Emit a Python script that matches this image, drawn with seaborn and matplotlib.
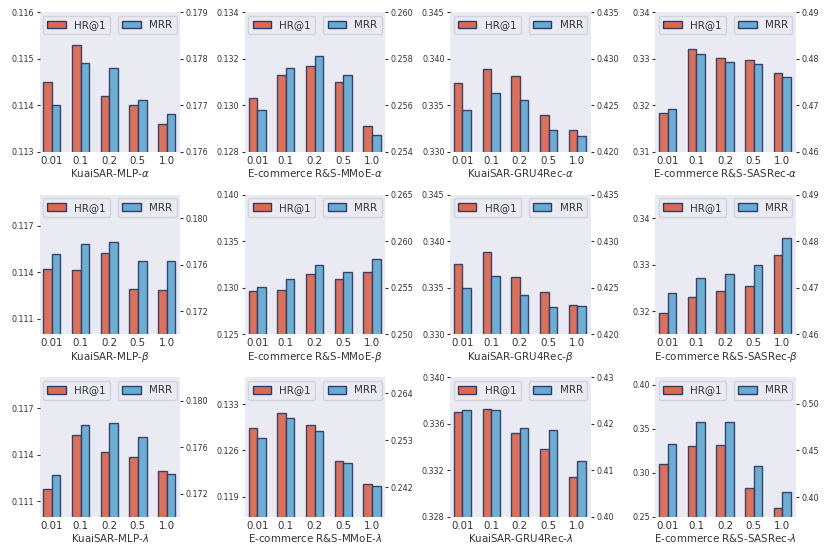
import numpy as np
import matplotlib
matplotlib.use("Agg")
import matplotlib.pyplot as plt
from matplotlib.patches import Patch
import seaborn as sns

# ── data ─────────────────────────────────────────────────────────────────
params = ["0.01", "0.1", "0.2", "0.5", "1.0"]

titles = [
    r"KuaiSAR-MLP-$\alpha$", r"E-commerce R&S-MMoE-$\alpha$",
    r"KuaiSAR-GRU4Rec-$\alpha$", r"E-commerce R&S-SASRec-$\alpha$",
    r"KuaiSAR-MLP-$\beta$", r"E-commerce R&S-MMoE-$\beta$",
    r"KuaiSAR-GRU4Rec-$\beta$", r"E-commerce R&S-SASRec-$\beta$",
    r"KuaiSAR-MLP-$\lambda$", r"E-commerce R&S-MMoE-$\lambda$",
    r"KuaiSAR-GRU4Rec-$\lambda$", r"E-commerce R&S-SASRec-$\lambda$",
]

hr_values = [
    [0.1145, 0.1153, 0.1142, 0.1140, 0.1136],
    [0.1303, 0.1313, 0.1317, 0.1310, 0.1291],
    [0.3374, 0.3389, 0.3381, 0.3339, 0.3323],
    [0.3184, 0.3321, 0.3301, 0.3297, 0.3270],
    [0.11424, 0.11413, 0.11524, 0.11293, 0.11284],
    [0.1296, 0.1298, 0.1315, 0.1309, 0.1317],
    [0.3376, 0.3389, 0.3362, 0.3345, 0.3331],
    [0.3195, 0.3231, 0.3244, 0.3253, 0.3321],
    [0.11177, 0.11529, 0.11417, 0.11389, 0.11297],
    [0.12935, 0.13165, 0.12985, 0.12435, 0.1210],
    [0.3370, 0.3373, 0.3352, 0.3338, 0.3314],
    [0.3097, 0.3305, 0.3320, 0.2829, 0.2602],
]

mrr_values = [
    [0.1770, 0.1779, 0.1778, 0.1771, 0.1768],
    [0.2558, 0.2576, 0.2581, 0.2573, 0.2547],
    [0.4245, 0.4263, 0.4256, 0.4223, 0.4217],
    [0.4692, 0.4809, 0.4793, 0.4788, 0.4761],
    [0.1769, 0.1778, 0.1779, 0.1763, 0.1763],
    [0.2551, 0.2559, 0.2575, 0.2567, 0.2581],
    [0.4250, 0.4263, 0.4242, 0.4229, 0.4230],
    [0.4689, 0.4720, 0.4729, 0.4748, 0.4808],
    [0.17357, 0.17789, 0.17806, 0.17689, 0.17369],
    [0.25356, 0.25809, 0.2551, 0.24755, 0.24216],
    [0.4231, 0.4229, 0.4191, 0.4187, 0.4120],
    [0.4569, 0.4808, 0.4804, 0.4335, 0.4057],
]

hr_ylims = [
    (0.113, 0.116), (0.128, 0.134), (0.330, 0.345), (0.31, 0.34),
    (0.110, 0.119), (0.125, 0.140), (0.330, 0.345), (0.315, 0.345),
    (0.110, 0.119), (0.116, 0.137), (0.328, 0.340), (0.25, 0.408),
]
mrr_ylims = [
    (0.176, 0.179), (0.254, 0.260), (0.420, 0.435), (0.46, 0.49),
    (0.170, 0.182), (0.250, 0.265), (0.420, 0.435), (0.46, 0.49),
    (0.170, 0.182), (0.235, 0.2677), (0.40, 0.43), (0.379, 0.528),
]

hr_ticks = [
    ["0.113", "0.114", "0.115", "0.116"], ["0.128", "0.130", "0.132", "0.134"],
    ["0.330", "0.335", "0.340", "0.345"], ["0.31", "0.32", "0.33", "0.34"],
    ["0.111", "0.114", "0.117"], ["0.125", "0.130", "0.135", "0.140"],
    ["0.330", "0.335", "0.340", "0.345"], ["0.32", "0.33", "0.34"],
    ["0.111", "0.114", "0.117"], ["0.119", "0.126", "0.133"],
    ["0.328", "0.332", "0.336", "0.340"], ["0.25", "0.30", "0.35", "0.40"],
]
mrr_ticks = [
    ["0.176", "0.177", "0.178", "0.179"], ["0.254", "0.256", "0.258", "0.260"],
    ["0.420", "0.425", "0.430", "0.435"], ["0.46", "0.47", "0.48", "0.49"],
    ["0.172", "0.176", "0.180"], ["0.250", "0.255", "0.260", "0.265"],
    ["0.420", "0.425", "0.430", "0.435"], ["0.46", "0.47", "0.48", "0.49"],
    ["0.172", "0.176", "0.180"], ["0.242", "0.253", "0.264"],
    ["0.40", "0.41", "0.42", "0.43"], ["0.40", "0.45", "0.50"],
]

HR_COLOR = "#DE6950"
MRR_COLOR = "#66ABD3"
EDGE = "#2E3D66"
TEXT = "#333333"
BAR_W = 0.3

sns.set_style("dark")
plt.rcParams["font.family"] = ["DejaVu Sans"]

fig, axes = plt.subplots(3, 4, figsize=(8.3, 5.54), dpi=100)
fig.subplots_adjust(left=0.0476, right=0.959, top=0.978, bottom=0.067,
                    wspace=0.46, hspace=0.31)

x = np.arange(len(params))
for i, ax in enumerate(axes.flat):
    ax2 = ax.twinx()

    ax.bar(x - BAR_W / 2, hr_values[i], BAR_W, color=HR_COLOR,
           edgecolor=EDGE, linewidth=1, alpha=0.95)
    ax2.bar(x + BAR_W / 2, mrr_values[i], BAR_W, color=MRR_COLOR,
            edgecolor=EDGE, linewidth=1, alpha=0.95)

    ax.set_xlim(-0.43, 4.47)
    ax.set_xticks(x, params)
    ax.set_ylim(*hr_ylims[i])
    ax2.set_ylim(*mrr_ylims[i])
    ax.set_yticks([float(t) for t in hr_ticks[i]], hr_ticks[i])
    ax2.set_yticks([float(t) for t in mrr_ticks[i]], mrr_ticks[i])

    ax.set_xlabel(titles[i], fontsize=7.4, color=TEXT, labelpad=1)
    ax.tick_params(axis="x", labelsize=7.4, length=0, pad=3, colors=TEXT)
    ax.tick_params(axis="y", left=True, length=2.5, width=0.8, labelsize=5.8,
                   pad=1.5, colors=TEXT)
    ax2.tick_params(axis="y", right=True, length=2.5, width=0.8, labelsize=5.8,
                    pad=1.5, colors=TEXT)
    for sp in list(ax.spines.values()) + list(ax2.spines.values()):
        sp.set_visible(False)

    leg1 = ax.legend(handles=[Patch(facecolor=HR_COLOR, edgecolor=EDGE, label="HR@1")],
                     loc="upper left", fontsize=7.4, handlelength=1.8,
                     handleheight=0.75, borderpad=0.42, handletextpad=0.8,
                     borderaxespad=0.35)
    leg2 = ax2.legend(handles=[Patch(facecolor=MRR_COLOR, edgecolor=EDGE, label="MRR")],
                      loc="upper right", fontsize=7.4, handlelength=1.8,
                      handleheight=0.75, borderpad=0.42, handletextpad=0.8,
                      borderaxespad=0.35)
    for leg in (leg1, leg2):
        leg.get_frame().set_edgecolor("#D0D0D8")
        leg.get_frame().set_facecolor("#EAEAF2")
        leg.get_frame().set_alpha(0.9)
        for t in leg.get_texts():
            t.set_color(TEXT)

fig.savefig("out.png", dpi=100)
plt.close(fig)
